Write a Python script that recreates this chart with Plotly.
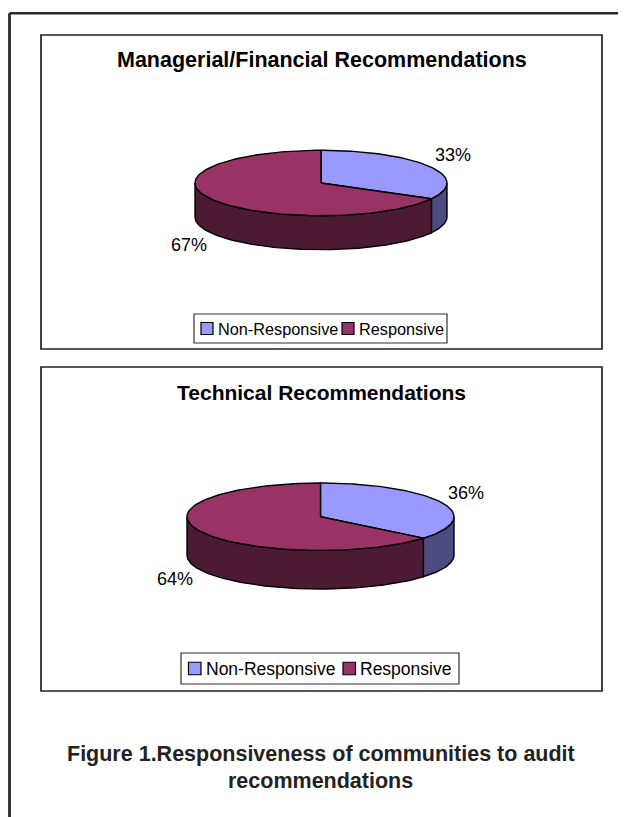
import math
import plotly.graph_objects as go

# ---------------- data ----------------
chart_titles = ["Managerial/Financial Recommendations", "Technical Recommendations"]
categories = ["Non-Responsive", "Responsive"]
managerial_values = [33, 67]
technical_values = [36, 64]
caption_lines = ["Figure 1.Responsiveness of communities to audit", "recommendations"]

# ---------------- styles / layout ----------------
TOP_COLORS = ["#9999FF", "#993366"]
SIDE_COLORS = ["#4C4C80", "#4C1A33"]
FONT = "Liberation Sans, Arial, sans-serif"
W, H = 626, 817
BODY = 8  # default page margin around the plot div

panels = [
    dict(values=managerial_values, title=chart_titles[0],
         box=(41, 35, 602, 349), title_y=60, title_size=21.5,
         cx=321, cy=183, rx=126, ry=32.7, depth=34, label_size=18,
         leg_box=(194, 314, 447, 343), leg_font=16.3,
         leg_sw=[201, 342], leg_tx=[216, 357], leg_sw_size=12),
    dict(values=technical_values, title=chart_titles[1],
         box=(41, 367, 602, 691), title_y=392, title_size=21,
         cx=320.5, cy=516.7, rx=133.5, ry=33.7, depth=38.6, label_size=18,
         leg_box=(181, 653, 459, 684), leg_font=17.5,
         leg_sw=[188.5, 343], leg_tx=[203.5, 357.5], leg_sw_size=12.5),
]

fig = go.Figure()
shapes = []
annotations = []


def pt(p, ang, dy=0.0):
    a = math.radians(ang)
    return p["cx"] + p["rx"] * math.sin(a), p["cy"] - p["ry"] * math.cos(a) + dy


def arc(p, a0, a1, dy=0.0, n=120):
    return [pt(p, a0 + (a1 - a0) * i / n, dy) for i in range(n + 1)]


for p in panels:
    # panel frame
    x0, y0, x1, y1 = p["box"]
    shapes.append(dict(type="rect", xref="x", yref="y", x0=x0, y0=y0, x1=x1, y1=y1,
                       line=dict(color="#222222", width=1.7), fillcolor="white", layer="below"))
    annotations.append(dict(x=(x0 + x1) / 2, y=p["title_y"], xref="x", yref="y",
                            text=p["title"], showarrow=False, xanchor="center", yanchor="middle",
                            font=dict(family=FONT, size=p["title_size"], color="black", weight="bold")))

    total = sum(p["values"])
    angles = [0.0]
    for v in p["values"]:
        angles.append(angles[-1] + 360.0 * v / total)

    # side walls (front half: 90..270 deg)
    for i in range(len(p["values"])):
        a0, a1 = max(angles[i], 90.0), min(angles[i + 1], 270.0)
        if a1 <= a0:
            continue
        top = arc(p, a0, a1)
        bot = arc(p, a1, a0, dy=p["depth"])
        poly = top + bot + [top[0]]
        fig.add_trace(go.Scatter(x=[q[0] for q in poly], y=[q[1] for q in poly],
                                 mode="lines", fill="toself", fillcolor=SIDE_COLORS[i],
                                 line=dict(color="black", width=1.4), hoverinfo="skip",
                                 showlegend=False))

    # top faces
    for i in range(len(p["values"])):
        poly = [(p["cx"], p["cy"])] + arc(p, angles[i], angles[i + 1]) + [(p["cx"], p["cy"])]
        fig.add_trace(go.Scatter(x=[q[0] for q in poly], y=[q[1] for q in poly],
                                 mode="lines", fill="toself", fillcolor=TOP_COLORS[i],
                                 line=dict(color="black", width=1.4), hoverinfo="skip",
                                 name=categories[i], showlegend=False))

    # percentage labels
    for i, v in enumerate(p["values"]):
        mid = math.radians((angles[i] + angles[i + 1]) / 2)
        lx = p["cx"] + (p["rx"] + 27) * math.sin(mid)
        ly = p["cy"] - 55 * math.cos(mid) + (p["depth"] if math.cos(mid) < 0 else 0)
        annotations.append(dict(x=lx, y=ly, xref="x", yref="y", text=f"{round(100 * v / total)}%",
                                showarrow=False, xanchor="center", yanchor="middle",
                                font=dict(family=FONT, size=p["label_size"], color="black")))

    # legend
    lx0, ly0, lx1, ly1 = p["leg_box"]
    shapes.append(dict(type="rect", xref="x", yref="y", x0=lx0, y0=ly0, x1=lx1, y1=ly1,
                       line=dict(color="#333333", width=1.2), fillcolor="white"))
    ymid = (ly0 + ly1) / 2
    s = p["leg_sw_size"]
    for i, cat in enumerate(categories):
        sx = p["leg_sw"][i]
        shapes.append(dict(type="rect", xref="x", yref="y", x0=sx, y0=ymid - s / 2,
                           x1=sx + s, y1=ymid + s / 2,
                           line=dict(color="black", width=1.2), fillcolor=TOP_COLORS[i]))
        annotations.append(dict(x=p["leg_tx"][i], y=ymid + 0.5, xref="x", yref="y", text=cat,
                                showarrow=False, xanchor="left", yanchor="middle",
                                font=dict(family=FONT, size=p["leg_font"], color="black")))

# outer page frame
shapes.append(dict(type="line", xref="x", yref="y", x0=9.5, y0=13.3, x1=W + 5, y1=13.3,
                   line=dict(color="#2a2a2a", width=2.6)))
shapes.append(dict(type="line", xref="x", yref="y", x0=9.5, y0=13.3, x1=9.5, y1=H + 5,
                   line=dict(color="#2a2a2a", width=2.8)))

# caption
for k, line in enumerate(caption_lines):
    annotations.append(dict(x=320.5, y=754 + 27 * k, xref="x", yref="y", text=line,
                            showarrow=False, xanchor="center", yanchor="middle",
                            font=dict(family=FONT, size=21.5, color="#222222", weight="bold")))

fig.update_layout(
    width=W - BODY, height=H - BODY, autosize=False,
    margin=dict(l=0, r=0, t=0, b=0),
    paper_bgcolor="white", plot_bgcolor="white",
    xaxis=dict(range=[BODY, W], visible=False, fixedrange=True),
    yaxis=dict(range=[H, BODY], visible=False, fixedrange=True),
    shapes=shapes, annotations=annotations, showlegend=False,
)

fig.write_html("out.html", config={"displayModeBar": False},
               post_script="document.documentElement.style.overflow='hidden';"
                           "document.body.style.overflow='hidden';")
